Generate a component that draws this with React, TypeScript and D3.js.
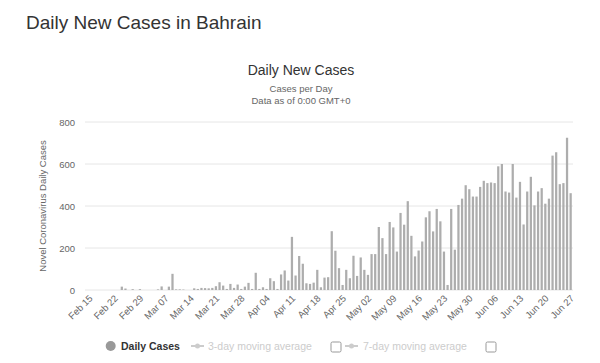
import React from 'react';
import * as d3 from 'd3';

// daily new cases, Feb 15 .. Jun 27 (one value per day)
const dailyCases: number[] = [
  0, 0, 0, 0, 0, 0, 0, 0, 0, 16,
  7, 0, 4, 0, 4, 0, 0, 0, 0, 3,
  17, 0, 16, 77, 3, 3, 2, 0, 0, 8,
  5, 10, 9, 8, 10, 18, 37, 21, 5, 29,
  10, 26, 5, 16, 34, 5, 82, 5, 13, 5,
  56, 42, 5, 74, 93, 45, 253, 69, 162, 125,
  32, 29, 35, 96, 13, 59, 61, 280, 187, 104,
  24, 96, 56, 163, 67, 155, 96, 72, 171, 171,
  300, 247, 171, 324, 298, 183, 367, 311, 423, 258,
  160, 188, 231, 346, 375, 279, 386, 327, 183, 24,
  386, 192, 405, 435, 499, 480, 445, 445, 491, 520,
  509, 512, 509, 589, 600, 469, 464, 600, 440, 515,
  312, 469, 539, 403, 469, 485, 411, 435, 640, 656,
  504, 509, 725, 461,
];

const xTickLabels = [
  'Feb 15', 'Feb 22', 'Feb 29', 'Mar 07', 'Mar 14', 'Mar 21', 'Mar 28',
  'Apr 04', 'Apr 11', 'Apr 18', 'Apr 25', 'May 02', 'May 09', 'May 16',
  'May 23', 'May 30', 'Jun 06', 'Jun 13', 'Jun 20', 'Jun 27',
];
const yTicks = [0, 200, 400, 600, 800];

const fmt = d3.timeFormat('%b %d');
const days = d3.timeDay.range(new Date(2020, 1, 15), new Date(2020, 5, 28)).map(d => fmt(d));

const font = '"Liberation Sans", Arial, sans-serif';

const App = () => {
  const x = d3.scaleBand<string>()
    .domain(days)
    .range([87.4, 572.5])
    .paddingInner(0.38)
    .paddingOuter(0.2);

  const y = d3.scaleLinear().domain([0, 800]).range([290, 122]);
  const plotLeft = 85;
  const plotRight = 573;

  return (
    <svg width={600} height={363} style={{ position: 'absolute', left: 0, top: 0, background: '#fff' }}>
      <text x={26} y={29} fontFamily={font} fontSize={19} fill="#333">Daily New Cases in Bahrain</text>

      <text x={301} y={75} textAnchor="middle" fontFamily={font} fontSize={14} fill="#333">Daily New Cases</text>
      <text x={301} y={92} textAnchor="middle" fontFamily={font} fontSize={9.5} fill="#666">Cases per Day</text>
      <text x={301} y={104} textAnchor="middle" fontFamily={font} fontSize={9.5} fill="#666">Data as of 0:00 GMT+0</text>

      {/* grid + y axis */}
      {yTicks.map(t => (
        <g key={t}>
          <line x1={plotLeft} x2={plotRight} y1={y(t)} y2={y(t)} stroke="#e6e6e6" strokeWidth={1} />
          <text x={75} y={y(t) + 3.5} textAnchor="end" fontFamily={font} fontSize={9.5} fill="#666">{t}</text>
        </g>
      ))}
      <text
        transform={`translate(46,${y(400)}) rotate(-90)`}
        textAnchor="middle" fontFamily={font} fontSize={9.5} fill="#666"
      >Novel Coronavirus Daily Cases</text>

      {/* bars */}
      {dailyCases.map((v, i) => (
        <rect
          key={i}
          x={x(days[i])}
          width={x.bandwidth()}
          y={y(v)}
          height={y(0) - y(v)}
          fill="#adadad"
        />
      ))}

      {/* x axis labels */}
      {xTickLabels.map(lbl => {
        const cx = (x(lbl) ?? 0) + x.bandwidth() / 2;
        return (
          <text
            key={lbl}
            transform={`translate(${cx + 4},299) rotate(-45)`}
            textAnchor="end" fontFamily={font} fontSize={9.5} fill="#666"
          >{lbl}</text>
        );
      })}

      {/* legend */}
      <g fontFamily={font} fontSize={10.5}>
        <circle cx={110.7} cy={346} r={5} fill="#999" />
        <text x={121} y={350} fontWeight="bold" fill="#333">Daily Cases</text>

        <line x1={191} x2={204} y1={346} y2={346} stroke="#ccc" strokeWidth={2} />
        <circle cx={197.5} cy={346} r={2.5} fill="#ccc" />
        <text x={208} y={350} fill="#ccc">3-day moving average</text>
        <rect x={331} y={342} width={10} height={10} rx={1.5} fill="#fff" stroke="#999" />

        <line x1={345} x2={358} y1={346} y2={346} stroke="#ccc" strokeWidth={2} />
        <circle cx={351.5} cy={346} r={2.5} fill="#ccc" />
        <text x={363} y={350} fill="#ccc">7-day moving average</text>
        <rect x={486} y={342} width={10} height={10} rx={1.5} fill="#fff" stroke="#999" />
      </g>
    </svg>
  );
};

export default App;
